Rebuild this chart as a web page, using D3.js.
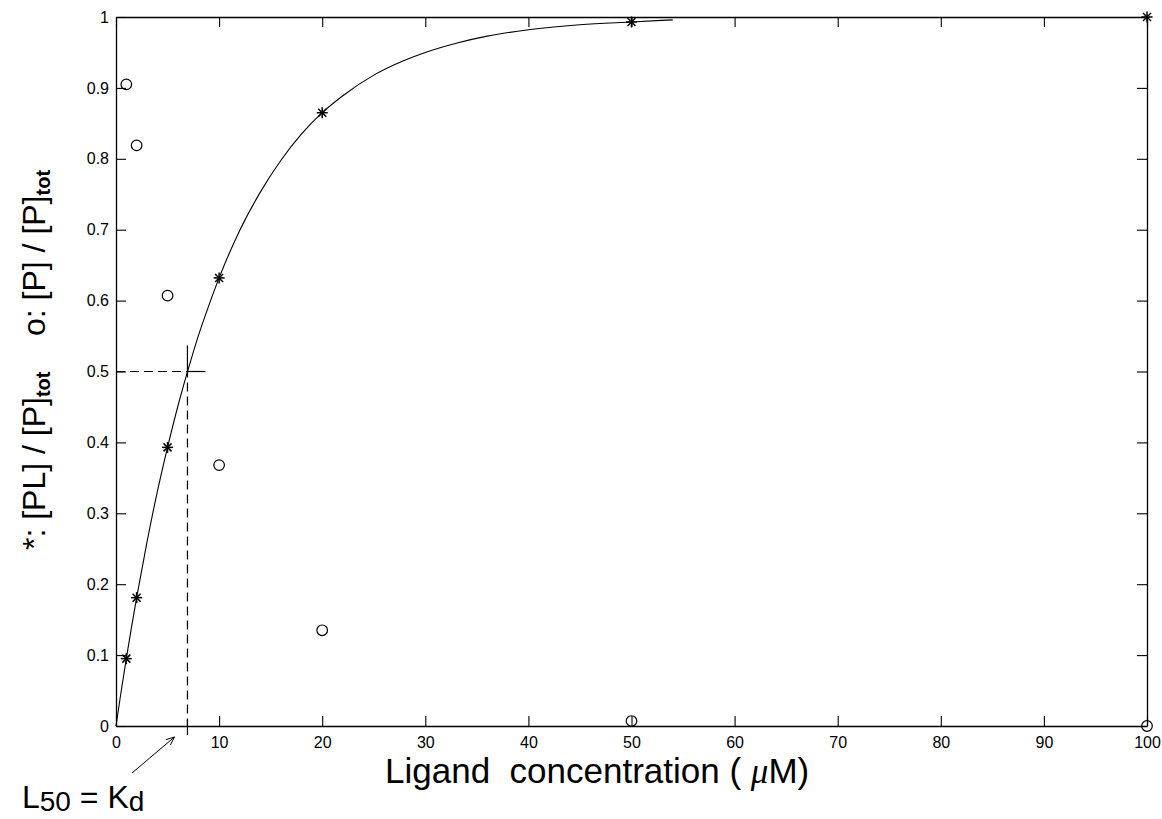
<!DOCTYPE html>
<html>
<head>
<meta charset="utf-8">
<script src="https://cdn.jsdelivr.net/npm/d3@7"></script>
<style>
  html, body { margin: 0; padding: 0; background: #fff; }
  svg { display: block; }
  text { font-family: "Liberation Sans", Arial, Helvetica, sans-serif; fill: #000; white-space: pre; }
</style>
</head>
<body>
<svg id="chart" width="1162" height="819"></svg>
<script>
// ---- data ----
const ligand = [1, 2, 5, 10, 20, 50, 100];                       // µM
const boundFraction = [0.095, 0.181, 0.393, 0.632, 0.865, 0.993, 1.0];   // *: [PL]/[P]tot
const freeFraction  = [0.905, 0.819, 0.607, 0.368, 0.135, 0.007, 0.0];   // o: [P]/[P]tot
const curveX = [0, 0.5, 1, 1.5, 2, 3, 4, 5, 6, 7, 8, 9, 10, 12, 14, 16, 18, 20, 22, 25, 28, 30, 33, 36, 40, 45, 50, 54];
const curveY = [0, 0.049, 0.095, 0.139, 0.181, 0.259, 0.330, 0.393, 0.451, 0.503, 0.551, 0.593, 0.632, 0.699, 0.753, 0.798, 0.835, 0.865, 0.889, 0.918, 0.939, 0.950, 0.963, 0.973, 0.982, 0.989, 0.993, 0.996];
const kd = 6.93;
const halfLevel = 0.5;
const xTicks = [0, 10, 20, 30, 40, 50, 60, 70, 80, 90, 100];
const yTicks = [0, 0.1, 0.2, 0.3, 0.4, 0.5, 0.6, 0.7, 0.8, 0.9, 1];

// ---- layout ----
const svg = d3.select("#chart");
const L = 116, T = 17, R = 1147, B = 726;
const x = d3.scaleLinear().domain([0, 100]).range([L, R]);
const y = d3.scaleLinear().domain([0, 1]).range([B, T]);

svg.append("rect").attr("width", 1162).attr("height", 819).attr("fill", "#fff");

// ---- axes (box with inward ticks on all sides) ----
const tickLen = 10;
const fmtY = v => (v === 0 ? "0" : v === 1 ? "1" : d3.format(".1f")(v));
const axB = d3.axisBottom(x).tickValues(xTicks).tickSizeInner(-tickLen).tickSizeOuter(0).tickPadding(11).tickFormat(d3.format("d"));
const axT = d3.axisTop(x).tickValues(xTicks).tickSizeInner(-tickLen).tickSizeOuter(0).tickFormat("");
const axLf = d3.axisLeft(y).tickValues(yTicks).tickSizeInner(-tickLen).tickSizeOuter(0).tickPadding(7).tickFormat(fmtY);
const axRt = d3.axisRight(y).tickValues(yTicks).tickSizeInner(-tickLen).tickSizeOuter(0).tickFormat("");

function style(g) {
  g.selectAll("path.domain").attr("stroke", "#000").attr("stroke-width", 1.3);
  g.selectAll(".tick line").attr("stroke", "#000").attr("stroke-width", 1.1);
  g.selectAll(".tick text").style("font-size", "16px").attr("fill", "#000");
}
svg.append("g").attr("transform", `translate(0,${B})`).call(axB).call(style);
svg.append("g").attr("transform", `translate(0,${T})`).call(axT).call(style);
svg.append("g").attr("transform", `translate(${L},0)`).call(axLf).call(style);
svg.append("g").attr("transform", `translate(${R},0)`).call(axRt).call(style);

// ---- curve ----
const pts = curveX.map((d, i) => [d, curveY[i]]);
svg.append("path")
  .datum(pts)
  .attr("fill", "none").attr("stroke", "#000").attr("stroke-width", 1.1)
  .attr("d", d3.line().x(d => x(d[0])).y(d => y(d[1])).curve(d3.curveMonotoneX));

// ---- Kd construction ----
const dash = "9,5";
svg.append("line").attr("x1", x(0)).attr("x2", x(kd)).attr("y1", y(halfLevel)).attr("y2", y(halfLevel))
  .attr("stroke", "#000").attr("stroke-width", 1.2).attr("stroke-dasharray", dash);
svg.append("line").attr("x1", x(kd)).attr("x2", x(kd)).attr("y1", y(halfLevel)).attr("y2", y(0))
  .attr("stroke", "#000").attr("stroke-width", 1.2).attr("stroke-dasharray", dash).attr("stroke-dashoffset", 3);
// cross at (Kd, 0.5)
svg.append("line").attr("x1", x(kd)).attr("x2", x(kd) + 18).attr("y1", y(halfLevel)).attr("y2", y(halfLevel))
  .attr("stroke", "#000").attr("stroke-width", 1.2);
svg.append("line").attr("x1", x(kd)).attr("x2", x(kd)).attr("y1", y(halfLevel) - 26).attr("y2", y(halfLevel) + 4)
  .attr("stroke", "#000").attr("stroke-width", 1.2);
// tick at (Kd, 0)
svg.append("line").attr("x1", x(kd)).attr("x2", x(kd)).attr("y1", y(0) - 6).attr("y2", y(0) + 9)
  .attr("stroke", "#000").attr("stroke-width", 1.2);

// ---- markers ----
const star = svg.append("g");
ligand.forEach((lx, i) => {
  const cx = x(lx), cy = y(boundFraction[i]), s = 5.5, d = 4;
  const g = star.append("g").attr("stroke", "#000").attr("stroke-width", 1.5);
  g.append("line").attr("x1", cx - s).attr("x2", cx + s).attr("y1", cy).attr("y2", cy);
  g.append("line").attr("x1", cx).attr("x2", cx).attr("y1", cy - s).attr("y2", cy + s);
  g.append("line").attr("x1", cx - d).attr("x2", cx + d).attr("y1", cy - d).attr("y2", cy + d);
  g.append("line").attr("x1", cx - d).attr("x2", cx + d).attr("y1", cy + d).attr("y2", cy - d);
});
svg.append("g").selectAll("circle").data(ligand).join("circle")
  .attr("cx", d => x(d)).attr("cy", (d, i) => y(freeFraction[i])).attr("r", 5.3)
  .attr("fill", "none").attr("stroke", "#000").attr("stroke-width", 1.2);

// ---- labels ----
const xl = svg.append("text").attr("x", 385).attr("y", 783).style("font-size", "35px");
xl.append("tspan").text("Ligand  concentration ( ");
xl.append("tspan").text("μ").style("font-family", "'Liberation Serif', serif").style("font-style", "italic");
xl.append("tspan").text("M)");

const yl = svg.append("text").attr("transform", "translate(45,360) rotate(-90)")
  .attr("text-anchor", "middle").style("font-size", "32px");
yl.append("tspan").text("*: [PL] / [P]");
yl.append("tspan").text("tot").attr("dy", 5).style("font-size", "20px").style("font-weight", "bold");
yl.append("tspan").text("    o: [P] / [P]").attr("dy", -5);
yl.append("tspan").text("tot").attr("dy", 5).style("font-size", "20px").style("font-weight", "bold");

const kl = svg.append("text").attr("x", 22).attr("y", 808).style("font-size", "32px");
kl.append("tspan").text("L");
kl.append("tspan").text("50").attr("dy", 3).style("font-size", "28px");
kl.append("tspan").text(" = K").attr("dy", -3);
kl.append("tspan").text("d").attr("dy", 3).style("font-size", "28px");

// ---- arrow ----
const ax0 = 132, ay0 = 773, ax1 = x(kd) - 13, ay1 = y(0) + 11;
svg.append("line").attr("x1", ax0).attr("y1", ay0).attr("x2", ax1).attr("y2", ay1)
  .attr("stroke", "#000").attr("stroke-width", 1);
const ang = Math.atan2(ay1 - ay0, ax1 - ax0), hl = 9, ha = 0.4;
svg.append("path")
  .attr("d", `M${ax1 - hl * Math.cos(ang - ha)},${ay1 - hl * Math.sin(ang - ha)} L${ax1},${ay1} L${ax1 - hl * Math.cos(ang + ha)},${ay1 - hl * Math.sin(ang + ha)}`)
  .attr("fill", "none").attr("stroke", "#000").attr("stroke-width", 1);
</script>
</body>
</html>
